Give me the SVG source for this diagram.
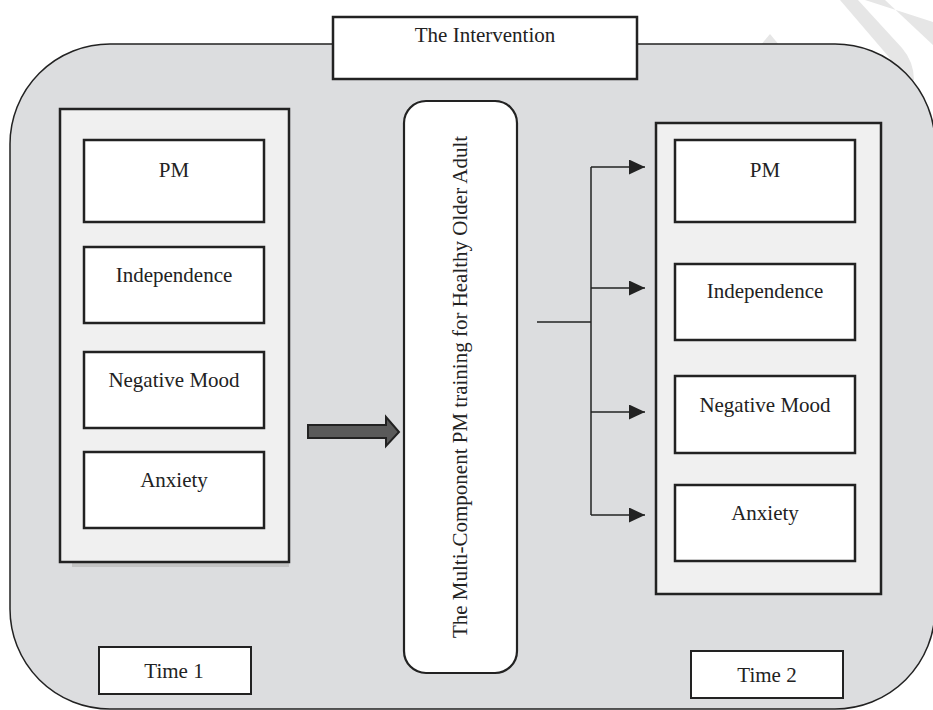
<svg xmlns="http://www.w3.org/2000/svg" width="933" height="710" viewBox="0 0 933 710">
  <style>
    .t { font-family: "Liberation Serif", "Times New Roman", serif; font-size: 21px; fill: #222; text-anchor: middle; }
    .box { fill: #fff; stroke: #222; stroke-width: 2.5; }
    .panel { fill: #f0f0f0; stroke: #222; stroke-width: 2.5; }
    .conn { fill: none; stroke: #222; stroke-width: 1.5; }
    .wm { fill: #e6e6e6; stroke: none; }
  </style>
  <defs>
    <marker id="ah" viewBox="0 0 16 15" refX="16" refY="7.5" markerWidth="16" markerHeight="15" markerUnits="userSpaceOnUse" orient="auto">
      <path d="M0,0 L16,7.5 L0,15 Z" fill="#222"/>
    </marker>
  </defs>
  <rect width="933" height="710" fill="#fff"/>
  <!-- faint watermark fragments -->
  <g id="watermark">
    <path class="wm" d="M840,0 L858,0 L902,48 Q914,62 914,80 L897,80 Q897,66 888,56 Z"/>
    <path class="wm" d="M865,0 L885,0 L933,45 L933,22 Z"/>
    <path class="wm" d="M760,46 L770,34 L780,46 Z"/>
  </g>
  <g id="background">
    <rect x="10" y="44" width="925" height="665" rx="100" ry="100" fill="#dcdddf" stroke="#222" stroke-width="1.5"/>
  </g>
  <g id="intervention">
    <rect x="333" y="17" width="304" height="62" fill="#fff" stroke="#222" stroke-width="2.5"/>
    <text class="t" x="485" y="42">The Intervention</text>
  </g>
  <g id="time1-panel">
    <rect x="72" y="114" width="217" height="453" fill="#c4c4c4"/>
    <rect class="panel" x="60" y="109" width="229" height="453"/>
  </g>
  <g id="t1-pm">
    <rect class="box" x="84" y="140" width="180" height="82"/>
    <text class="t" x="174" y="177">PM</text>
  </g>
  <g id="t1-independence">
    <rect class="box" x="84" y="247" width="180" height="76"/>
    <text class="t" x="174" y="282">Independence</text>
  </g>
  <g id="t1-mood">
    <rect class="box" x="84" y="352" width="180" height="76"/>
    <text class="t" x="174" y="387">Negative Mood</text>
  </g>
  <g id="t1-anxiety">
    <rect class="box" x="84" y="452" width="180" height="76"/>
    <text class="t" x="174" y="487">Anxiety</text>
  </g>
  <g id="time1-label">
    <rect x="99" y="647" width="152" height="47" fill="#fff" stroke="#222" stroke-width="2"/>
    <text class="t" x="174" y="678">Time 1</text>
  </g>
  <g id="training">
    <rect x="404" y="101" width="113" height="572" rx="22" ry="22" fill="#fff" stroke="#222" stroke-width="2.2"/>
    <text class="t" transform="translate(467,387) rotate(-90)" x="0" y="0">The Multi-Component PM training for Healthy Older Adult</text>
  </g>
  <g id="time2-panel">
    <rect class="panel" x="656" y="123" width="225" height="471"/>
  </g>
  <g id="t2-pm">
    <rect class="box" x="675" y="140" width="180" height="82"/>
    <text class="t" x="765" y="177">PM</text>
  </g>
  <g id="t2-independence">
    <rect class="box" x="675" y="264" width="180" height="76"/>
    <text class="t" x="765" y="298">Independence</text>
  </g>
  <g id="t2-mood">
    <rect class="box" x="675" y="376" width="180" height="77"/>
    <text class="t" x="765" y="412">Negative Mood</text>
  </g>
  <g id="t2-anxiety">
    <rect class="box" x="675" y="485" width="180" height="76"/>
    <text class="t" x="765" y="520">Anxiety</text>
  </g>
  <g id="time2-label">
    <rect x="691" y="651" width="152" height="47" fill="#fff" stroke="#222" stroke-width="2"/>
    <text class="t" x="767" y="682">Time 2</text>
  </g>
  <g id="connectors">
    <path d="M308,425 L386,425 L386,417 L399,432 L386,446 L386,438 L308,438 Z" fill="#5a5a5a" stroke="#222" stroke-width="2"/>
    <path class="conn" d="M537,322 L591,322"/>
    <path class="conn" d="M591,167 L591,515"/>
    <path class="conn" d="M591,167 L645,167" marker-end="url(#ah)"/>
    <path class="conn" d="M591,288 L645,288" marker-end="url(#ah)"/>
    <path class="conn" d="M591,412 L645,412" marker-end="url(#ah)"/>
    <path class="conn" d="M591,515 L645,515" marker-end="url(#ah)"/>
  </g>
</svg>
